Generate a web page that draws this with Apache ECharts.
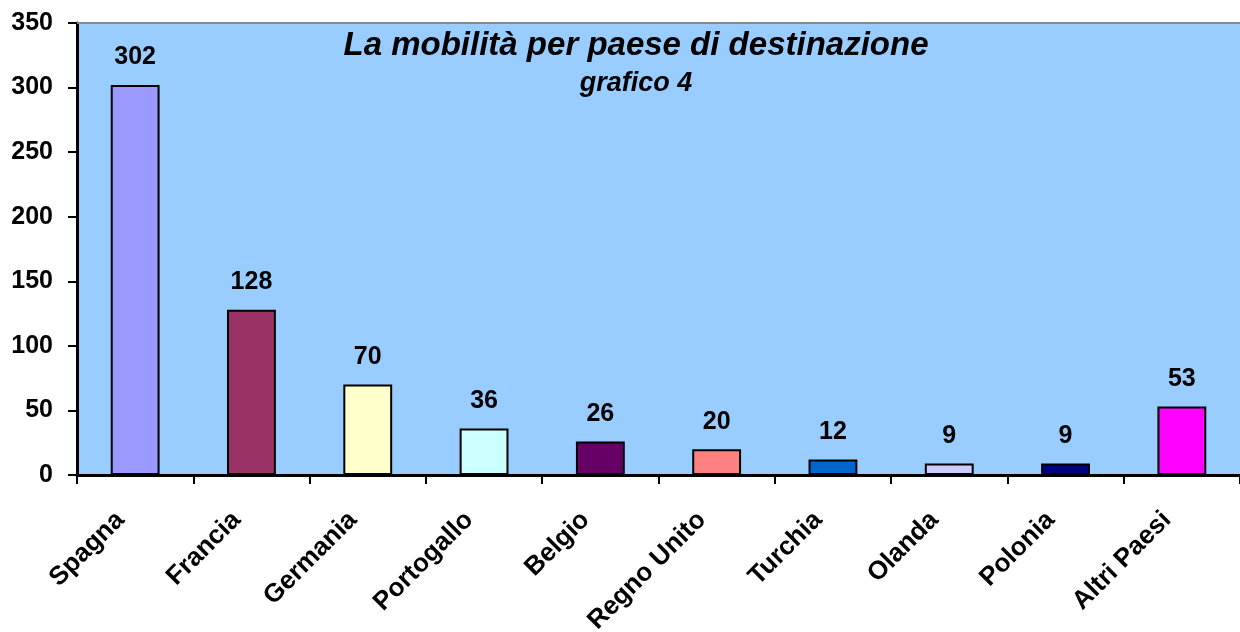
<!DOCTYPE html>
<html>
<head>
<meta charset="utf-8">
<script src="https://cdn.jsdelivr.net/npm/echarts@6/dist/echarts.min.js"></script>
<style>
  html, body { margin: 0; padding: 0; background: #fff; }
  #main { width: 1240px; height: 632px; }
</style>
</head>
<body>
<div id="main"></div>
<script>
var paesi = ['Spagna', 'Francia', 'Germania', 'Portogallo', 'Belgio', 'Regno Unito', 'Turchia', 'Olanda', 'Polonia', 'Altri Paesi'];
var mobilita = [302, 128, 70, 36, 26, 20, 12, 9, 9, 53];
var colori = ['#9999FF', '#993366', '#FFFFCC', '#CCFFFF', '#660066', '#FF8080', '#0066CC', '#CCCCFF', '#000080', '#FF00FF'];

var font = 'Liberation Sans, Arial, sans-serif';
var dom = document.getElementById('main');
var myChart = echarts.init(dom);

var dati = mobilita.map(function (v, i) {
    return { value: v, itemStyle: { color: colori[i] } };
});

option = {
    animation: false,
    textStyle: { fontFamily: font },
    title: {
        text: 'La mobilità per paese di destinazione',
        subtext: 'grafico 4',
        left: 636,
        textAlign: 'center',
        top: 29,
        itemGap: 8,
        padding: 0,
        textStyle: { fontSize: 33, fontWeight: 'bold', fontStyle: 'italic', color: '#000', fontFamily: font },
        subtextStyle: { fontSize: 27, fontWeight: 'bold', fontStyle: 'italic', color: '#000', fontFamily: font }
    },
    grid: {
        left: 77, right: 0, top: 23, bottom: 157,
        outerBoundsMode: 'none',
        containLabel: false,
        show: true, borderWidth: 0, backgroundColor: '#99CCFF'
    },
    xAxis: [{
        type: 'category',
        data: paesi,
        axisLine: { lineStyle: { color: '#000', width: 3 } },
        axisTick: { show: true, length: 9, lineStyle: { color: '#000', width: 2 } },
        axisLabel: {
            rotate: 45, interval: 0, margin: 26,
            padding: [0, 21, 0, 0],
            fontSize: 26, fontWeight: 'bold', color: '#000', fontFamily: font
        }
    }, {
        type: 'category',
        data: paesi,
        position: 'top',
        axisLine: { lineStyle: { color: '#888', width: 2 } },
        axisTick: { show: false },
        axisLabel: { show: false }
    }],
    yAxis: {
        type: 'value',
        min: 0, max: 350, interval: 50,
        axisLine: { show: true, lineStyle: { color: '#000', width: 3 } },
        axisTick: { show: true, length: 9, lineStyle: { color: '#000', width: 2 } },
        splitLine: { show: false },
        axisLabel: { fontSize: 25, fontWeight: 'bold', color: '#000', margin: 24, fontFamily: font }
    },
    series: [{
        type: 'bar',
        data: dati,
        barWidth: '42%',
        itemStyle: { borderColor: '#000', borderWidth: 2 },
        label: {
            show: true, position: 'top', distance: 15,
            fontSize: 25, fontWeight: 'bold', color: '#000', fontFamily: font
        }
    }]
};
myChart.setOption(option);
window.onresize = myChart.resize;
</script>
</body>
</html>
